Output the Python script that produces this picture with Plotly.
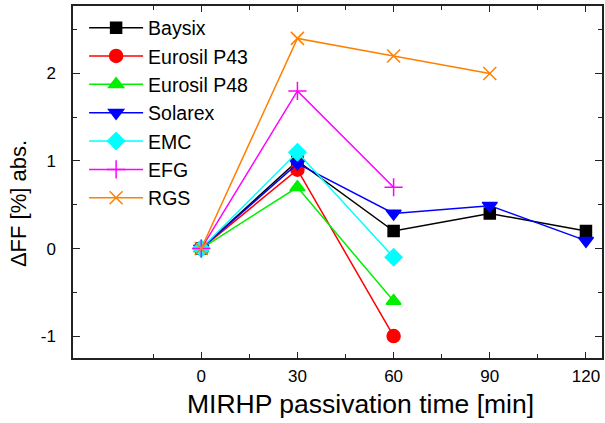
import plotly.graph_objects as go

time_labels = [0, 30, 60, 90, 120]
baysix = [0.0, 1.0, 0.2, 0.4, 0.2]
eurosil_p43 = [0.0, 0.9, -1.0]
eurosil_p48 = [0.0, 0.7, -0.6]
solarex = [0.0, 0.97, 0.4, 0.49, 0.09]
emc = [0.0, 1.1, -0.1]
efg = [0.0, 1.8, 0.7]
rgs = [0.0, 2.4, 2.2, 2.0]

series = [
    ("Baysix", baysix, "#000000", "square", 11),
    ("Eurosil P43", eurosil_p43, "#FF0000", "circle", 13),
    ("Eurosil P48", eurosil_p48, "#00F000", "triangle-up", 13),
    ("Solarex", solarex, "#0000FF", "triangle-down", 13),
    ("EMC", emc, "#00FFFF", "diamond", 13),
    ("EFG", efg, "#FF00FF", "cross-thin-open", 13),
    ("RGS", rgs, "#FF8000", "x-thin-open", 13),
]

fig = go.Figure()
for name, vals, col, sym, size in series:
    fig.add_trace(go.Scatter(
        x=time_labels[:len(vals)], y=vals, name=name, mode="lines+markers",
        line=dict(color=col, width=1.5),
        marker=dict(symbol=sym, size=size, color=col, line=dict(color=col, width=1.5)),
    ))

fnt = "Liberation Sans, Arial, sans-serif"
fig.update_layout(
    width=605, height=423,
    margin=dict(l=73, r=3, t=6, b=65),
    paper_bgcolor="white", plot_bgcolor="white",
    font=dict(family=fnt, color="black", size=17),
    showlegend=True,
    legend=dict(x=0.021, y=0.993, xanchor="left", yanchor="top",
                font=dict(size=19.5, family=fnt), bgcolor="rgba(0,0,0,0)",
                itemwidth=54, tracegroupgap=0),
    xaxis=dict(range=[-40, 125], tickvals=time_labels, ticks="inside", ticklen=6,
               tickcolor="#222222", tickwidth=1.2, ticklabelstandoff=2,
               showline=True, linecolor="#222222", linewidth=1.5, mirror="ticks",
               showgrid=False, zeroline=False, automargin=False,
               minor=dict(tickvals=[-15, 15, 45, 75, 105], ticks="inside", ticklen=4,
                          tickcolor="#222222", tickwidth=1.2, showgrid=False),
               tickfont=dict(size=17)),
    yaxis=dict(range=[-1.25, 2.77], tickvals=[-1, 0, 1, 2], ticktext=["-1", "0", "1", "2"],
               ticks="inside", ticklen=7, tickcolor="#222222", tickwidth=1.2,
               ticklabelstandoff=12,
               showline=True, linecolor="#222222", linewidth=1.5, mirror="ticks",
               showgrid=False, zeroline=False, automargin=False,
               minor=dict(dtick=0.5, ticks="inside", ticklen=4, tickcolor="#222222",
                          tickwidth=1.2, showgrid=False),
               tickfont=dict(size=17)),
    annotations=[
        dict(text="MIRHP passivation time [min]", xref="paper", yref="paper",
             x=0.5435, y=-0.1307, xanchor="center", yanchor="middle",
             showarrow=False, font=dict(size=26.5, family=fnt)),
        dict(text="ΔFF [%] abs.", xref="paper", yref="paper",
             x=-0.104, y=0.44, xanchor="center", yanchor="middle", textangle=-90,
             showarrow=False, font=dict(size=22, family=fnt)),
    ],
)
fig.write_html("out.html", post_script="document.body.style.margin='0';",
               config={"displayModeBar": False})
